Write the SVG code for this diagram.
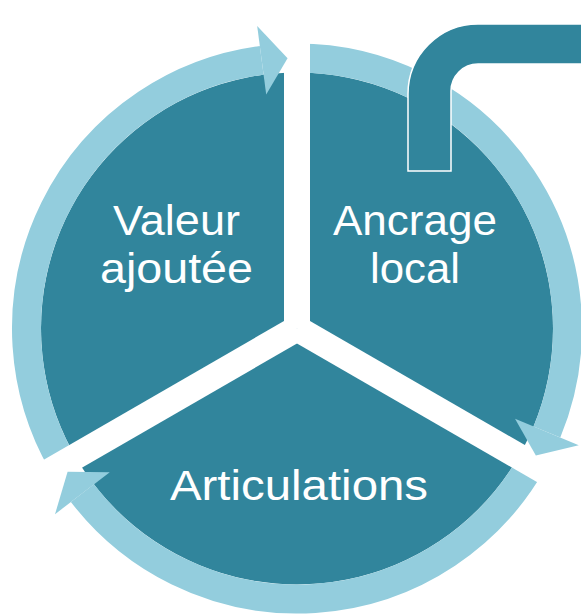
<svg xmlns="http://www.w3.org/2000/svg" width="581" height="616" viewBox="0 0 581 616">
<defs>
<style>
.dark{fill:#31859C;}
.ring{fill:none;stroke:#93CDDD;stroke-width:29;stroke-linecap:butt;}
.head{fill:#93CDDD;}
.gap{stroke:#FFFFFF;stroke-width:26;stroke-linecap:butt;fill:none;}
.bent{fill:#31859C;stroke:#FFFFFF;stroke-width:1.5;stroke-linejoin:miter;}
.lbl{fill:#FFFFFF;font-family:"Liberation Sans",Arial,sans-serif;text-anchor:middle;font-variant-ligatures:none;}
</style>
</defs>
<rect width="581" height="616" fill="#FFFFFF"/>
<g id="disk">
<circle class="dark" cx="297" cy="328.5" r="256"/>
</g>
<g id="connectors">
<path class="ring" d="M 297 58 A 270.5 270.5 0 0 1 546.91 432.02"/>
<path class="ring" d="M 531.26 463.75 A 270.5 270.5 0 0 1 82.40 493.17"/>
<path class="ring" d="M 62.74 463.75 A 270.5 270.5 0 0 1 261.69 60.32"/>
</g>
<g id="gaps">
<line class="gap" x1="297" y1="328.5" x2="297" y2="-10"/>
<line class="gap" x1="297" y1="328.5" x2="591.4" y2="498.5"/>
<line class="gap" x1="297" y1="328.5" x2="2.6" y2="498.5"/>
</g>
<g id="arrowheads">
<polygon class="head" points="266.20,94.52 287.56,58.17 257.19,26.11"/>
<polygon class="head" points="515.04,418.81 535.84,455.49 578.78,445.22"/>
<polygon class="head" points="109.77,472.17 67.60,471.84 55.03,514.17"/>
</g>
<g id="bent-arrow">
<path class="bent" d="M 408 171 L 408 94 A 70 70 0 0 1 478 24 L 590 24 L 590 64 L 478 64 A 27 27 0 0 0 451 91 L 451 171 Z"/>
</g>
<g id="node-valeur">
<text class="lbl" font-size="42.5" x="176.5" y="235" textLength="127" lengthAdjust="spacingAndGlyphs">Valeur</text>
<text class="lbl" font-size="42.5" x="176.5" y="283" textLength="153" lengthAdjust="spacingAndGlyphs">ajoutée</text>
</g>
<g id="node-ancrage">
<text class="lbl" font-size="42.5" x="415" y="235" textLength="164" lengthAdjust="spacingAndGlyphs">Ancrage</text>
<text class="lbl" font-size="42.5" x="415" y="283" textLength="90" lengthAdjust="spacingAndGlyphs">local</text>
</g>
<g id="node-articulations">
<text class="lbl" font-size="42" x="299" y="500" textLength="258" lengthAdjust="spacingAndGlyphs">Articulations</text>
</g>
</svg>
